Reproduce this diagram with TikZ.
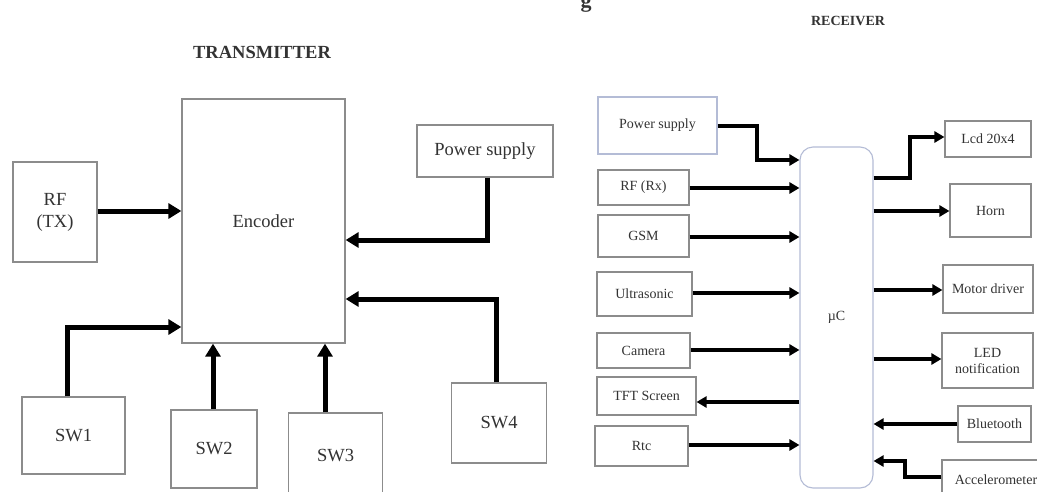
\documentclass[tikz,border=0pt]{standalone}
\usepackage{fontspec}
\setmainfont{Liberation Serif}
\usetikzlibrary{arrows.meta}
\definecolor{boxgray}{HTML}{8C8C8C}
\definecolor{bluegray}{HTML}{B4BCD6}
\definecolor{txt}{HTML}{333333}
\begin{document}
\begin{tikzpicture}[x=1pt,y=-1pt,
  tbox/.style={draw=boxgray,line width=1.3pt,inner sep=0pt,align=center,text=txt,font=\fontsize{18.5}{22}\selectfont},
  rbox/.style={draw=boxgray,line width=1.1pt,inner sep=0pt,align=center,text=txt,font=\fontsize{14}{16}\selectfont},
  tarr/.style={line width=5pt,-{Triangle[length=13pt,width=15pt]}},
  rarr/.style={line width=3.8pt,-{Triangle[length=10pt,width=11pt]}},
  ttl/.style={text=txt,inner sep=0pt}]
\useasboundingbox (0,0) rectangle (1037,491);
\clip (0,0) rectangle (1037,491);
\fill[white] (0,0) rectangle (1037,491);
% titles
\node[ttl,font=\bfseries\fontsize{22}{22}\selectfont,anchor=base] (gfrag) at (586,7) {g};
\node[ttl,font=\bfseries\fontsize{18.5}{20}\selectfont] (ttitle) at (262,52) {TRANSMITTER};
\node[ttl,font=\bfseries\fontsize{14}{16}\selectfont] (rtitle) at (848,21) {RECEIVER};
% transmitter
\node[tbox,minimum width=84pt,minimum height=100pt] (rf) at (55,212) {RF\\(TX)};
\node[tbox,minimum width=163pt,minimum height=244pt] (enc) at (263.5,221) {Encoder};
\node[tbox,minimum width=136pt,minimum height=52pt] (ps1) at (485,151) {Power supply};
\node[tbox,minimum width=103pt,minimum height=77pt] (sw1) at (73.5,435.5) {SW1};
\node[tbox,minimum width=86pt,minimum height=78pt] (sw2) at (214,449) {SW2};
\node[tbox,minimum width=94pt,minimum height=86pt] (sw3) at (335.5,456) {SW3};
\node[tbox,minimum width=95pt,minimum height=80pt] (sw4) at (499,423) {SW4};
\draw[tarr] (rf.east |- 0,211) -- (enc.west |- 0,211);
\draw[tarr] (ps1.south -| 487,0) |- (enc.east |- 0,240);
\draw[tarr] (sw4.north -| 496,0) |- (enc.east |- 0,299);
\draw[tarr] (sw1.north -| 67,0) |- (enc.west |- 0,327);
\draw[tarr] (sw2.north -| 213,0) -- (enc.south -| 213,0);
\draw[tarr] (sw3.north -| 325,0) -- (enc.south -| 325,0);
% receiver
\node[rbox,draw=bluegray,minimum width=73pt,minimum height=341pt,rounded corners=13pt] (uc) at (836.5,317.5) {µC};
\node[rbox,draw=bluegray,minimum width=119pt,minimum height=57pt] (rps) at (657.5,125.5) {Power supply};
\node[rbox,minimum width=91pt,minimum height=35pt] (rrf) at (643.5,187.5) {RF (Rx)};
\node[rbox,minimum width=91pt,minimum height=42pt] (gsm) at (643.5,236) {GSM};
\node[rbox,minimum width=95pt,minimum height=44pt] (ultra) at (644.5,294) {Ultrasonic};
\node[rbox,minimum width=93pt,minimum height=35pt] (cam) at (643.5,350.5) {Camera};
\node[rbox,minimum width=99pt,minimum height=38pt] (tft) at (646.5,396) {TFT Screen};
\node[rbox,minimum width=93pt,minimum height=40pt] (rtc) at (641.5,446) {Rtc};
\node[rbox,minimum width=86pt,minimum height=36pt] (lcd) at (988,139) {Lcd 20x4};
\node[rbox,minimum width=81pt,minimum height=53pt] (horn) at (990.5,210.5) {Horn};
\node[rbox,minimum width=90pt,minimum height=48pt] (motor) at (988,289) {Motor driver};
\node[rbox,minimum width=91pt,minimum height=55pt] (led) at (987.5,360.5) {LED\\notification};
\node[rbox,minimum width=73pt,minimum height=36pt] (bt) at (994.5,424) {Bluetooth};
\node[rbox,minimum width=108pt,minimum height=40pt] (acc) at (996,480) {Accelerometer};
\draw[rarr] (rps.east |- 0,126) -- (757,126) |- (uc.west |- 0,160);
\draw[rarr] (rrf.east |- 0,188) -- (uc.west |- 0,188);
\draw[rarr] (gsm.east |- 0,237) -- (uc.west |- 0,237);
\draw[rarr] (ultra.east |- 0,293) -- (uc.west |- 0,293);
\draw[rarr] (cam.east |- 0,350) -- (uc.west |- 0,350);
\draw[rarr] (uc.west |- 0,402) -- (tft.east |- 0,402);
\draw[rarr] (rtc.east |- 0,445) -- (uc.west |- 0,445);
\draw[rarr] (uc.east |- 0,178) -- (910,178) |- (lcd.west |- 0,137);
\draw[rarr] (uc.east |- 0,211) -- (horn.west |- 0,211);
\draw[rarr] (uc.east |- 0,290) -- (motor.west |- 0,290);
\draw[rarr] (uc.east |- 0,359) -- (led.west |- 0,359);
\draw[rarr] (bt.west |- 0,424) -- (uc.east |- 0,424);
\draw[rarr] (acc.west |- 0,477) -- (905,477) |- (uc.east |- 0,461);
\end{tikzpicture}
\end{document}
